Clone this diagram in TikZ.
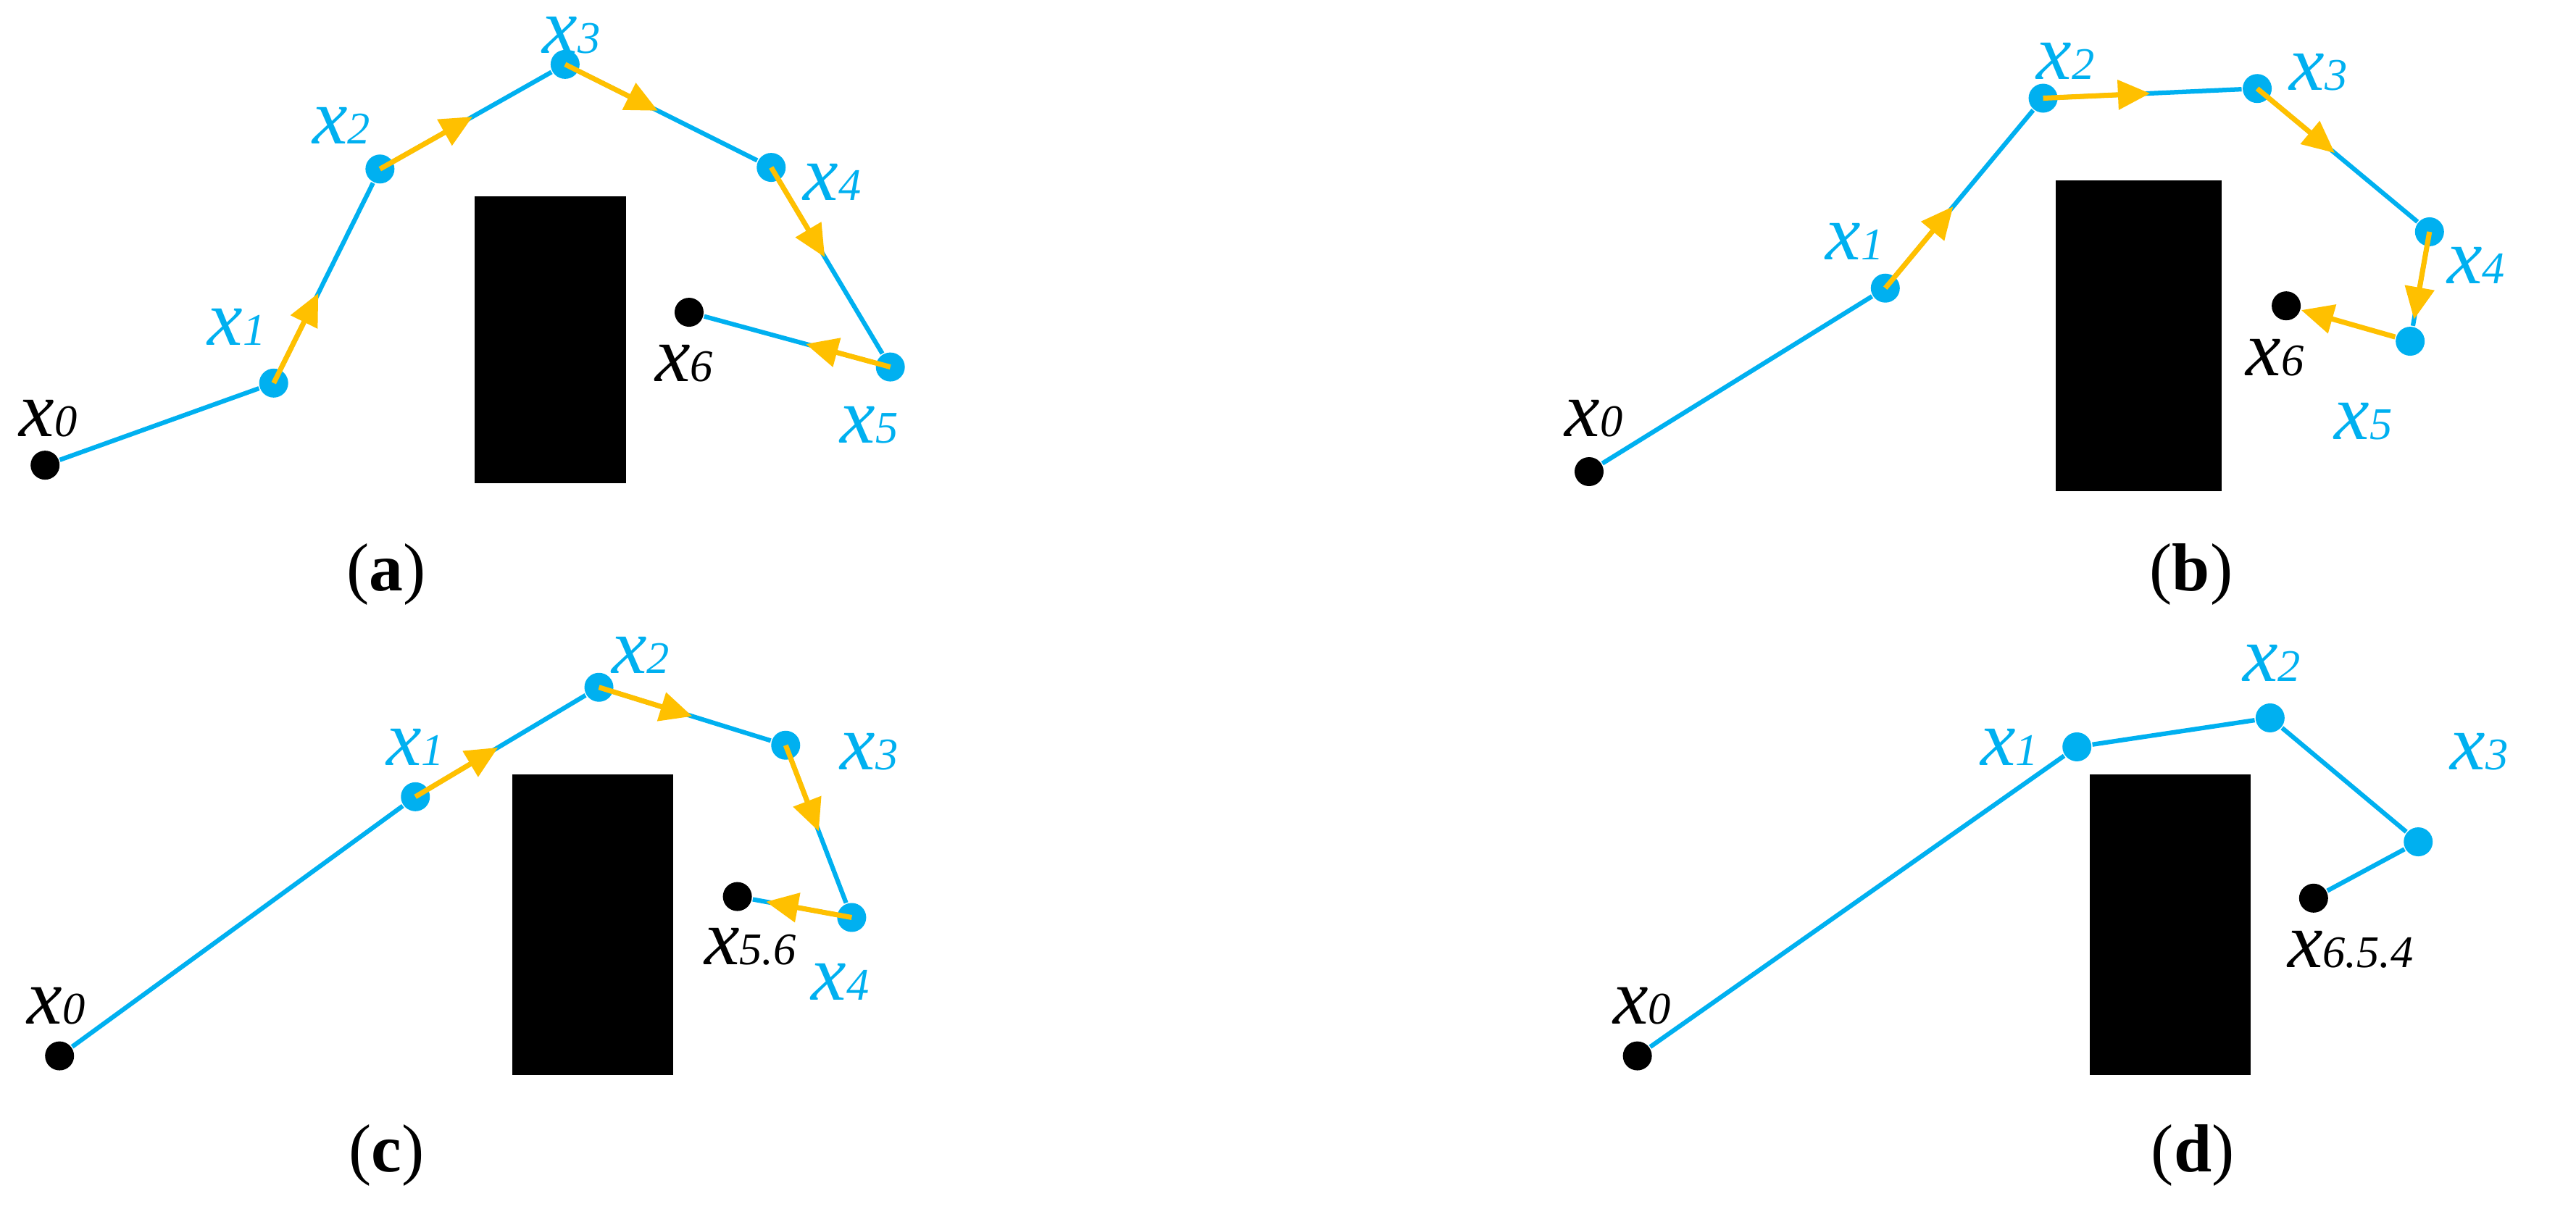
\documentclass[tikz,border=0pt]{standalone}
\usepackage{fontspec}
\setmainfont{Liberation Serif}
\usetikzlibrary{calc,arrows.meta}
\definecolor{ptblue}{RGB}{0,176,240}
\definecolor{stepyel}{RGB}{255,192,0}
\tikzset{
  pt/.style={circle,fill=ptblue,inner sep=0pt,minimum size=1.8mm},
  goal/.style={circle,fill=black,inner sep=0pt,minimum size=1.8mm},
  route/.style={ptblue,line width=0.8pt},
  move/.style={stepyel,line width=0.9pt,-{Triangle[length=2mm,width=1.8mm]}},
  lab/.style={ptblue,inner sep=0.5pt,font=\fontsize{14}{14}\selectfont\itshape},
  blab/.style={black,inner sep=0.5pt,font=\fontsize{14}{14}\selectfont\itshape},
  obst/.style={fill=black},
  figcap/.style={font=\fontsize{12}{12}\selectfont}
}
\newcommand{\xs}[1]{x{\fontsize{8}{8}\selectfont#1}}
\begin{document}
\begin{tikzpicture}[x=0.1mm,y=-0.1mm]
     \useasboundingbox (0,0) rectangle (1600,761);

     % (a)
     \fill[obst] (295,122) rectangle (389,300);
     \node[goal] (a0) at (28,289) {};
     \node[pt]  (a1) at (170,238) {};
     \node[pt]  (a2) at (236,105) {};
     \node[pt]  (a3) at (351,40) {};
     \node[pt]  (a4) at (479,104) {};
     \node[pt]  (a5) at (553,228) {};
     \node[goal] (a6) at (428,194) {};
     \draw[route] (a0)--(a1)--(a2)--(a3)--(a4)--(a5)--(a6);
     \draw[move] (a1.center) -- ($(a1)!0.42!(a2)$);
     \draw[move] (a2.center) -- ($(a2)!0.5!(a3)$);
     \draw[move] (a3.center) -- ($(a3)!0.45!(a4)$);
     \draw[move] (a4.center) -- ($(a4)!0.45!(a5)$);
     \draw[move] (a5.center) -- ($(a5)!0.42!(a6)$);
     \node[blab] at (30,260) {\xs{0}};
     \node[lab]  at (147,203) {\xs{1}};
     \node[lab]  at (212,78) {\xs{2}};
     \node[lab]  at (355,22) {\xs{3}};
     \node[lab]  at (517,113) {\xs{4}};
     \node[lab]  at (540,264) {\xs{5}};
     \node[blab] at (425,226) {\xs{6}};
     \node[figcap]  at (240,357) {(\textbf{a})};

     % (b)
     \fill[obst] (1277,112) rectangle (1380,305);
     \node[goal] (b0) at (987,293) {};
     \node[pt]  (b1) at (1171,179) {};
     \node[pt]  (b2) at (1269,61) {};
     \node[pt]  (b3) at (1402,55) {};
     \node[pt]  (b4) at (1509,144) {};
     \node[pt]  (b5) at (1497,212) {};
     \node[goal] (b6) at (1420,190) {};
     \draw[route] (b0)--(b1)--(b2)--(b3)--(b4)--(b5);
     \draw[move] (b1.center) -- ($(b1)!0.43!(b2)$);
     \draw[move] (b2.center) -- ($(b2)!0.5!(b3)$);
     \draw[move] (b3.center) -- ($(b3)!0.45!(b4)$);
     \draw[move] (b4.center) -- ($(b4)!0.8!(b5)$);
     \draw[move] (b5) -- (b6);
     \node[blab] at (990,260) {\xs{0}};
     \node[lab]  at (1152,150) {\xs{1}};
     \node[lab]  at (1283,38) {\xs{2}};
     \node[lab]  at (1440,45) {\xs{3}};
     \node[lab]  at (1538,165) {\xs{4}};
     \node[lab]  at (1468,262) {\xs{5}};
     \node[blab] at (1413,222) {\xs{6}};
     \node[figcap]  at (1361,357) {(\textbf{b})};

     % (c)
     \fill[obst] (318,481) rectangle (418,668);
     \node[goal] (c0) at (37,656) {};
     \node[pt]  (c1) at (258,495) {};
     \node[pt]  (c2) at (372,427) {};
     \node[pt]  (c3) at (488,463) {};
     \node[pt]  (c4) at (529,570) {};
     \node[goal] (c5) at (458,557) {};
     \draw[route] (c0)--(c1)--(c2)--(c3)--(c4)--(c5);
     \draw[move] (c1.center) -- ($(c1)!0.45!(c2)$);
     \draw[move] (c2.center) -- ($(c2)!0.5!(c3)$);
     \draw[move] (c3.center) -- ($(c3)!0.5!(c4)$);
     \draw[move] (c4.center) -- ($(c4)!0.75!(c5)$);
     \node[blab] at (35,625) {\xs{0}};
     \node[lab]  at (258,464) {\xs{1}};
     \node[lab]  at (398,407) {\xs{2}};
     \node[lab]  at (540,467) {\xs{3}};
     \node[lab]  at (522,610) {\xs{4}};
     \node[blab] at (466,588) {\xs{5.6}};
     \node[figcap]  at (240,718) {(\textbf{c})};

     % (d)
     \fill[obst] (1298,481) rectangle (1398,668);
     \node[goal] (d0) at (1017,656) {};
     \node[pt]  (d1) at (1290,464) {};
     \node[pt]  (d2) at (1410,446) {};
     \node[pt]  (d3) at (1502,523) {};
     \node[goal] (d4) at (1437,558) {};
     \draw[route] (d0)--(d1)--(d2)--(d3)--(d4);
     \node[blab] at (1020,625) {\xs{0}};
     \node[lab]  at (1248,464) {\xs{1}};
     \node[lab]  at (1411,412) {\xs{2}};
     \node[lab]  at (1540,467) {\xs{3}};
     \node[blab] at (1460,590) {\xs{6.5.4}};
     \node[figcap]  at (1362,718) {(\textbf{d})};
\end{tikzpicture}
\end{document}
